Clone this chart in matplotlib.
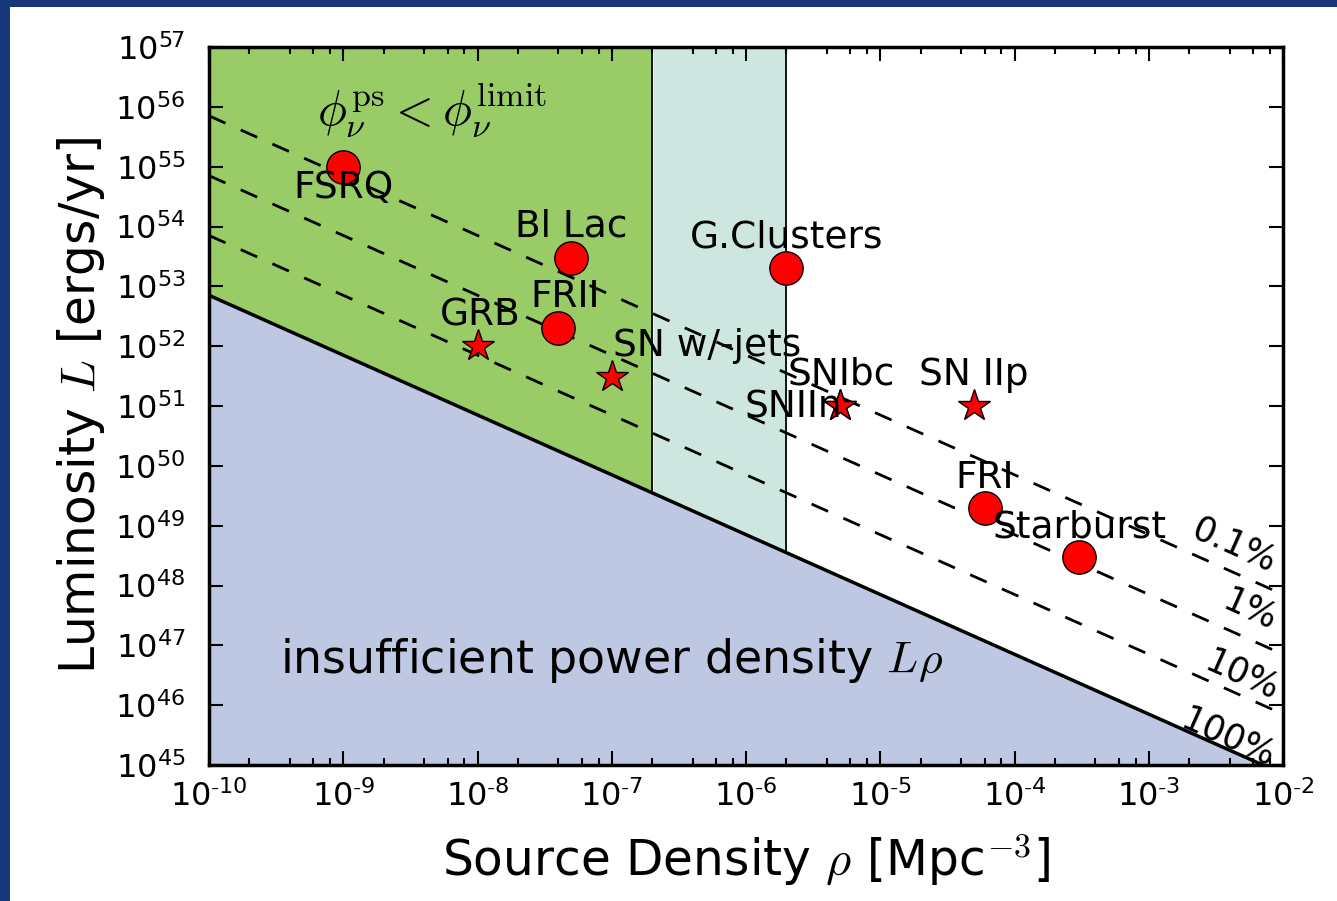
import numpy as np
import matplotlib
matplotlib.use('Agg')
import matplotlib.pyplot as plt
from matplotlib.patches import Rectangle
from matplotlib.ticker import LogLocator, FuncFormatter, NullLocator, FixedLocator

plt.rcParams['mathtext.fontset'] = 'cm'
plt.rcParams['font.family'] = ['DejaVu Sans']

# source classes: name, density [Mpc^-3], luminosity [erg/yr], marker
circ_names = ['FSRQ', 'Bl Lac', 'G.Clusters', 'FRII', 'FRI', 'Starburst']
circ_rho = [1e-9, 5e-8, 2e-6, 4e-8, 6e-5, 3e-4]
circ_L = [1e55, 3e53, 2e53, 2e52, 2e49, 3e48]

star_names = ['GRB', 'SN w/-jets', 'SNIbc', 'SNIIn', 'SN IIp']
star_rho = [1e-8, 1e-7, 5e-6, 5e-6, 5e-5]
star_L = [1e52, 3e51, 1e51, 1e51, 1e51]

# label anchor offsets (in decades) relative to the marker
circ_off = [(0.0, -0.36), (0.0, 0.52), (0.0, 0.52), (0.05, 0.52), (0.0, 0.5), (0.01, 0.5)]
star_off = [(0.02, 0.52), (0.71, 0.52), (0.01, 0.52), (-0.35, -0.02), (0.0, 0.52)]

# L * rho for the 100 % line, and the fractions of the dashed lines
power_density = 10**42.85
fractions = [1.0, 0.1, 0.01, 0.001]
frac_labels = ['100%', '10%', '1%', '0.1%']
frac_label_pos = [(10**-2.41, 10**45.45), (10**-2.31, 10**46.5),
                  (10**-2.25, 10**47.6), (10**-2.36, 10**48.67)]

rho_green = 2e-7
rho_teal = 2e-6

x_decades = np.arange(-10, -1)
y_decades = np.arange(45, 58)

fig = plt.figure(figsize=(13.37, 9.01), dpi=100)
fig.patch.set_facecolor('#17377a')
fig.patches.append(Rectangle((10 / 1337, 0), 1, 894 / 901, transform=fig.transFigure,
                             facecolor='white', edgecolor='none', zorder=-10))

ax = fig.add_axes([209 / 1337, 136 / 901, 1074 / 1337, 718 / 901])
ax.set_xscale('log')
ax.set_yscale('log')
xmin, xmax = 1e-10, 1e-2
ymin, ymax = 1e45, 1e57
ax.set_xlim(xmin, xmax)
ax.set_ylim(ymin, ymax)

rho = np.logspace(-10, -2, 400)
L100 = power_density / rho

ax.fill_between(rho, ymin, L100, color='#bfc8e2', zorder=1, lw=0)
m = rho <= rho_green
ax.fill_between(rho[m], L100[m], ymax, color='#99cc66', zorder=1, lw=0)
m = (rho >= rho_green) & (rho <= rho_teal)
ax.fill_between(rho[m], L100[m], ymax, color='#cde6df', zorder=1, lw=0)
for r in [rho_green, rho_teal]:
    ax.plot([r, r], [power_density / r, ymax], color='black', lw=1.3, zorder=2)

for f in fractions:
    if f == 1.0:
        ax.plot(rho, L100, color='black', lw=2.5, zorder=3)
    else:
        ax.plot(rho, L100 / f, color='black', lw=2, ls=(0, (6.5, 6)), zorder=3)

for lab, pos in zip(frac_labels, frac_label_pos):
    ax.text(pos[0], pos[1], lab, fontsize=25, rotation=-24,
            ha='center', va='center', zorder=5)

ax.plot(circ_rho, circ_L, 'o', color='red', mec='black', mew=1, ms=24, zorder=4)
ax.plot(star_rho, star_L, '*', color='red', mec='black', mew=1, ms=24, zorder=4)

for name, r, l, (dx, dy) in zip(circ_names + star_names, circ_rho + star_rho,
                                circ_L + star_L, circ_off + star_off):
    ax.text(r * 10**dx, l * 10**dy, name, fontsize=27,
            ha='center', va='center', zorder=5)

ax.text(10**-8.34, 10**55.95, r'$\phi_\nu^{\rm ps} < \phi_\nu^{\rm limit}$',
        fontsize=35, ha='center', va='center', zorder=5)
ax.text(10**-7.0, 10**46.75, r'insufficient power density $L\rho$',
        fontsize=33, ha='center', va='center', zorder=5)

fmt = FuncFormatter(lambda v, p: r'$\mathregular{10^{%s}}$'
                    % str(round(np.log10(v))).replace('-', r'\text{-}'))
ax.xaxis.set_major_locator(FixedLocator(10.0**x_decades))
ax.xaxis.set_minor_locator(LogLocator(base=10, subs=(2, 4, 6, 8), numticks=20))
ax.yaxis.set_major_locator(FixedLocator(10.0**y_decades))
ax.yaxis.set_minor_locator(NullLocator())
ax.xaxis.set_major_formatter(fmt)
ax.yaxis.set_major_formatter(fmt)
ax.tick_params(which='both', direction='in', top=True, right=True, labelsize=23, width=1.5)
ax.tick_params(which='major', length=10)
ax.tick_params(axis='y', which='major', pad=17)
ax.tick_params(axis='x', which='major', pad=11)
ax.tick_params(which='minor', length=5)
for s in ax.spines.values():
    s.set_linewidth(2.5)
    s.set_zorder(6)

ax.set_xlabel(r'Source Density $\rho$ [Mpc$^{-3}$]', fontsize=35, labelpad=14)
ax.set_ylabel(r'Luminosity $L$ [ergs/yr]', fontsize=35, labelpad=6)

fig.savefig('out.png', dpi=100, facecolor=fig.get_facecolor())
